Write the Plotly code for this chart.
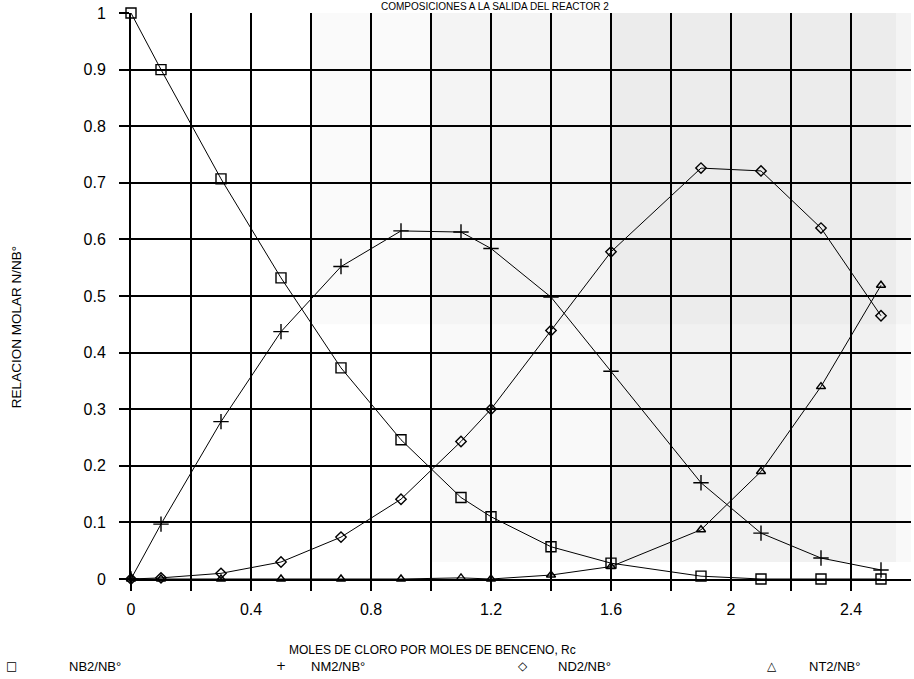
import plotly.graph_objects as go

# Molar ratio vs chlorine/benzene feed ratio
rc = [0, 0.1, 0.3, 0.5, 0.7, 0.9, 1.1, 1.2, 1.4, 1.6, 1.9, 2.1, 2.3, 2.5]
nb2 = [1.0, 0.90, 0.707, 0.532, 0.373, 0.246, 0.144, 0.110, 0.057, 0.028, 0.005, 0.0, 0.0, 0.0]
nm2 = [0.0, 0.097, 0.278, 0.437, 0.552, 0.615, 0.613, 0.584, 0.498, 0.367, 0.170, 0.081, 0.037, 0.016]
nd2 = [0.0, 0.002, 0.010, 0.030, 0.074, 0.141, 0.243, 0.300, 0.439, 0.578, 0.726, 0.721, 0.620, 0.465]
nt2 = [0.0, 0.0, 0.0, 0.0, 0.0, 0.0, 0.002, 0.0, 0.007, 0.022, 0.087, 0.190, 0.340, 0.519]

series_names = ["NB2/NB°", "NM2/NB°", "ND2/NB°", "NT2/NB°"]
series_values = [nb2, nm2, nd2, nt2]
symbols = ["square-open", "cross-thin", "diamond-open", "triangle-up-open"]
symbol_glyphs = ["□", "+", "◇", "△"]
marker_sizes = [10, 11, 8, 8]

x_ticks = [0, 0.2, 0.4, 0.6, 0.8, 1.0, 1.2, 1.4, 1.6, 1.8, 2.0, 2.2, 2.4]
x_labels = ["0", "", "0.4", "", "0.8", "", "1.2", "", "1.6", "", "2", "", "2.4"]
y_ticks = [0, 0.1, 0.2, 0.3, 0.4, 0.5, 0.6, 0.7, 0.8, 0.9, 1.0]
y_labels = ["0", "0.1", "0.2", "0.3", "0.4", "0.5", "0.6", "0.7", "0.8", "0.9", "1"]

FONT = "Liberation Sans"

fig = go.Figure()
for name, vals, sym, size in zip(series_names, series_values, symbols, marker_sizes):
    fig.add_trace(go.Scatter(
        x=rc, y=vals, name=name, mode="lines+markers",
        line=dict(color="black", width=1),
        marker=dict(symbol=sym, size=size, color="black",
                    line=dict(color="black", width=1.4)),
        showlegend=False, cliponaxis=False,
    ))

# light toner stipple on the right side of the sheet
shade = [
    (0.6, 2.62, 0.45, 1.0, 0.02),
    (1.0, 2.62, 0.03, 1.0, 0.025),
    (1.6, 2.55, 0.03, 1.0, 0.03),
]
for x0, x1, y0, y1, op in shade:
    fig.add_shape(type="rect", x0=x0, x1=x1, y0=y0, y1=y1, xref="x", yref="y",
                  fillcolor="black", opacity=op, line_width=0, layer="below")

axis_common = dict(
    showgrid=True, gridcolor="black", gridwidth=2,
    ticks="outside", ticklen=10, tickwidth=2, tickcolor="black",
    showline=True, linecolor="black", linewidth=2,
    zeroline=False,
    tickfont=dict(family=FONT, size=16, color="black"),
)

fig.update_xaxes(range=[0, 2.6], tickmode="array", tickvals=x_ticks,
                 ticktext=x_labels, ticklabelstandoff=5, **axis_common)
fig.update_yaxes(range=[0, 1], tickmode="array", tickvals=y_ticks,
                 ticktext=y_labels, ticklabelstandoff=10, **axis_common)

annotations = [
    dict(text="COMPOSICIONES A LA SALIDA DEL REACTOR 2", x=0.467, y=1,
         xref="paper", yref="paper", xanchor="center", yanchor="bottom",
         yshift=0, showarrow=False, borderpad=0, font=dict(family=FONT, size=10)),
    dict(text="MOLES DE CLORO POR MOLES DE BENCENO, Rc", x=0.386, y=0,
         xref="paper", yref="paper", xanchor="center", yanchor="middle",
         yshift=-71, showarrow=False, borderpad=0, font=dict(family=FONT, size=12)),
    dict(text="RELACION MOLAR N/NB°", x=0, y=0.445, xref="paper", yref="paper",
         xanchor="center", yanchor="middle", xshift=-115, textangle=-90,
         showarrow=False, font=dict(family=FONT, size=13.5)),
]

# legend row along the bottom
glyph_px = [12, 281, 523, 772]
text_px = [68, 310, 557, 808]
plot_left, plot_width = 131, 780
for name, glyph, gx, tx in zip(series_names, symbol_glyphs, glyph_px, text_px):
    annotations.append(dict(text=glyph, x=(gx - plot_left) / plot_width, y=0,
                            xref="paper", yref="paper", xanchor="center",
                            yanchor="middle", yshift=-87, showarrow=False,
                            borderpad=0, font=dict(family="DejaVu Sans", size=12)))
    annotations.append(dict(text=name, x=(tx - plot_left) / plot_width, y=0,
                            xref="paper", yref="paper", xanchor="left",
                            yanchor="middle", yshift=-87, showarrow=False,
                            borderpad=0, font=dict(family=FONT, size=13)))

fig.update_layout(
    width=914, height=679,
    margin=dict(l=131, r=3, t=13, b=100),
    paper_bgcolor="white", plot_bgcolor="white",
    annotations=annotations,
    font=dict(family=FONT, color="black"),
)

fig.write_html("out.html")
